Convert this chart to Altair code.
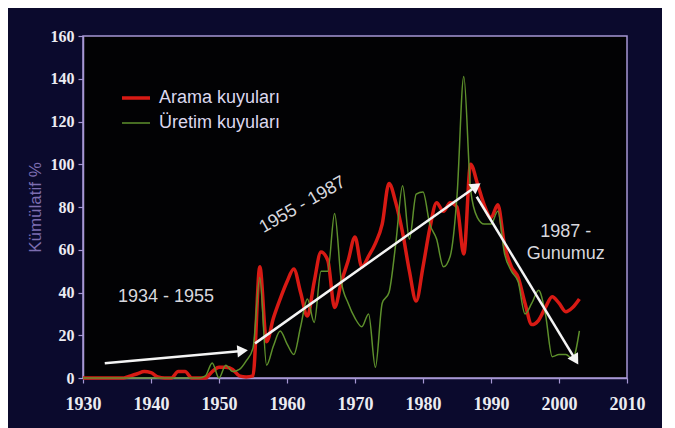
import math
import altair as alt
import pandas as pd

# ---- data ----
years = list(range(1930, 2004))

arama = [0, 0, 0, 0, 0, 0, 0, 1, 2, 3,          # 1930-1939
         2.5, 0.5, 0, 0, 3, 3, 0, 0, 0, 3,      # 1940-1949
         5, 5, 4, 1, 0.5, 1, 52, 17, 28, 37,    # 1950-1959
         45, 51, 40, 29, 45, 59, 55, 33, 45, 55,  # 1960-1969
         66, 52, 57, 63, 72, 91, 82, 68, 50, 36,  # 1970-1979
         52, 70, 82, 78, 82, 80, 58, 100, 91, 81,  # 1980-1989
         75, 81, 62, 52, 47, 35, 25, 27, 33, 38,  # 1990-1999
         35, 31, 33, 37]                          # 2000-2003

uretim = [0, 0, 0, 0, 0, 0, 0, 0, 0, 0,
          0, 0, 0, 0, 0, 0, 0, 0, 1, 7,
          0, 6, 3, 4, 8, 14, 47, 6, 15, 22,
          16, 11, 24, 37, 26, 50, 50, 77, 45, 35,
          28, 24, 30, 5, 35, 40, 63, 90, 65, 86,
          87, 72, 65, 52, 57, 85, 141, 88, 75, 72,
          72, 78, 58, 50, 45, 30, 35, 41, 30, 10,
          11, 11, 9, 22]

series_names = ["Arama kuyuları", "Üretim kuyuları"]
series_colors = ["#d81a14", "#5e902c"]
series_widths = [3.5, 1.5]

x_ticks = list(range(1930, 2011, 5))
y_ticks = list(range(0, 161, 10))

# annotation arrows (start year, start value, end year, end value)
arrows_x1 = [1933.2, 1955.3, 1987.9]
arrows_y1 = [6.9, 16.2, 84.8]
arrows_x2 = [1953.8, 1988.1, 2002.6]
arrows_y2 = [12.8, 90.3, 7.6]

# annotation texts
labels_text = ["1934 - 1955", "1955 - 1987", "1987 -\nGunumuz"]
labels_x = [1942.2, 1962.3, 2001.0]
labels_y = [38, 81, 68.5]
labels_angle = [0, 330, 0]

# ---- layout ----
W, H = 544, 342
X0, X1 = 1930, 2010
Y0, Y1 = 0, 160
px_per_year = W / (X1 - X0)
px_per_unit = H / (Y1 - Y0)

rows = []
for i, yr in enumerate(years):
    rows.append({"Yil": yr, "Seri": series_names[0], "Deger": arama[i]})
    rows.append({"Yil": yr, "Seri": series_names[1], "Deger": uretim[i]})
df = pd.DataFrame(rows)

xscale = alt.Scale(domain=[X0, X1], nice=False, zero=False)
yscale = alt.Scale(domain=[Y0, Y1], nice=False)

axis_color = "#a797d4"

x_axis = alt.Axis(values=x_ticks, format="d",
                  labelExpr="datum.value % 10 == 0 ? datum.label : ''",
                  grid=False, domainColor=axis_color, tickColor=axis_color,
                  tickSize=5, domainWidth=1.5, tickWidth=1.2,
                  labelFlush=False, labelOverlap=False,
                  labelFont="Liberation Serif", labelFontWeight="bold",
                  labelFontSize=18, labelColor="#ececf2", labelPadding=12,
                  title=None)
y_axis = alt.Axis(values=y_ticks, format="d",
                  labelExpr="datum.value % 20 == 0 ? datum.label : ''",
                  grid=False, domainColor=axis_color, tickColor=axis_color,
                  tickSize=5, domainWidth=1.5, tickWidth=1.2,
                  labelFlush=False, labelOverlap=False,
                  labelFont="Liberation Serif", labelFontWeight="bold",
                  labelFontSize=16, labelColor="#ececf2", labelPadding=4,
                  title="Kümülatif %", titleColor="#7c6db0",
                  titleFont="Liberation Sans", titleFontWeight="normal",
                  titleFontSize=17, titlePadding=6)

legend = alt.Legend(title=None, orient="none", legendX=37, legendY=46,
                    symbolType="stroke", symbolSize=784,
                    labelFont="Liberation Sans", labelFontSize=18,
                    labelColor="#dcd8ee", labelOffset=7, rowPadding=1,
                    symbolStrokeWidth=3)

lines = alt.Chart(df).mark_line(interpolate="monotone").encode(
    x=alt.X("Yil:Q", scale=xscale, axis=x_axis),
    y=alt.Y("Deger:Q", scale=yscale, axis=y_axis),
    color=alt.Color("Seri:N", sort=series_names,
                    scale=alt.Scale(domain=series_names, range=series_colors),
                    legend=legend),
    strokeWidth=alt.StrokeWidth("Seri:N", sort=series_names,
                                scale=alt.Scale(domain=series_names, range=series_widths),
                                legend=legend),
    order=alt.Order("Yil:Q"),
)

# arrows
arr_rows = []
for a in range(len(arrows_x1)):
    dx = (arrows_x2[a] - arrows_x1[a]) * px_per_year
    dy = (arrows_y2[a] - arrows_y1[a]) * px_per_unit
    L = math.hypot(dx, dy)
    ang = math.degrees(math.atan2(dx, dy)) % 360
    back = 4.0  # px back from tip for the head centre
    hx = arrows_x2[a] - back * dx / L / px_per_year
    hy = arrows_y2[a] - back * dy / L / px_per_unit
    arr_rows.append({"x": arrows_x1[a], "y": arrows_y1[a],
                     "x2": arrows_x2[a] - 6 * dx / L / px_per_year,
                     "y2": arrows_y2[a] - 6 * dy / L / px_per_unit,
                     "hx": hx, "hy": hy, "ang": ang})
arr_df = pd.DataFrame(arr_rows)

shafts = alt.Chart(arr_df).mark_rule(color="#f4f4f4", strokeWidth=2.5).encode(
    x=alt.X("x:Q", scale=xscale), y=alt.Y("y:Q", scale=yscale),
    x2="x2:Q", y2="y2:Q")
heads = alt.Chart(arr_df).mark_point(shape="triangle", filled=True, size=150,
                                     color="#f4f4f4", opacity=1).encode(
    x=alt.X("hx:Q", scale=xscale), y=alt.Y("hy:Q", scale=yscale),
    angle=alt.Angle("ang:Q", scale=None))

txt_df = pd.DataFrame({"t": labels_text, "x": labels_x, "y": labels_y,
                       "a": labels_angle})
texts = alt.Chart(txt_df).mark_text(font="Liberation Sans", fontSize=18,
                                    color="#d8d8de", lineBreak="\n",
                                    lineHeight=22, align="center",
                                    baseline="middle").encode(
    x=alt.X("x:Q", scale=xscale), y=alt.Y("y:Q", scale=yscale),
    text="t:N", angle=alt.Angle("a:Q", scale=None))

chart = alt.layer(lines, shafts, heads, texts).properties(
    width=W, height=H,
    background="#0b0a2d",
    padding={"left": 75, "top": 28, "right": 35, "bottom": 50},
    autosize=alt.AutoSizeParams(type="none"),
).configure_view(fill="#020204", stroke=axis_color, strokeWidth=1.5)

chart.save("out.html", embed_options={"renderer": "svg", "actions": False})
